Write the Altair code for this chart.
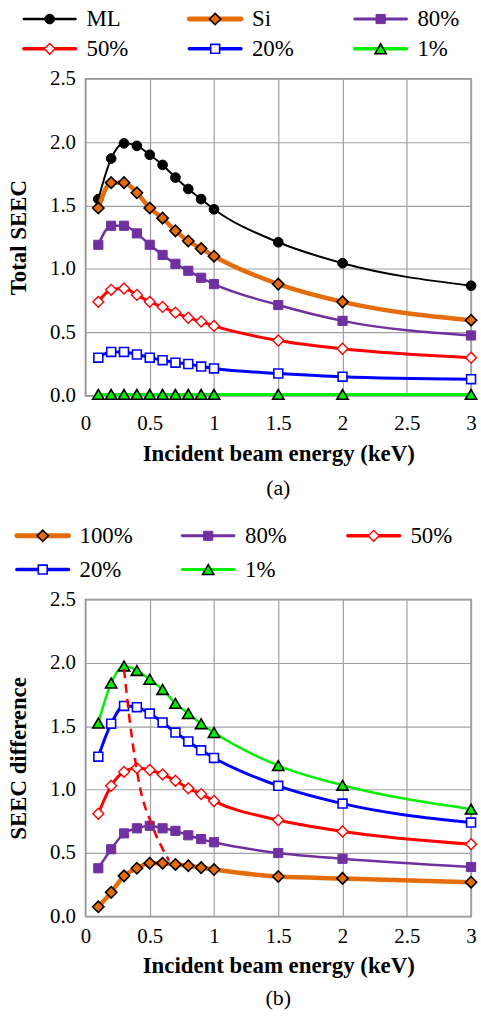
import altair as alt
import pandas as pd

# ---------------- data ----------------
energy = [0.1, 0.2, 0.3, 0.4, 0.5, 0.6, 0.7, 0.8, 0.9, 1.0, 1.5, 2.0, 3.0]

# panel (a): total SEEC
names_a = ["ML", "Si", "80%", "50%", "20%", "1%"]
seec_ml = [1.55, 1.87, 1.99, 1.97, 1.90, 1.82, 1.72, 1.63, 1.55, 1.47, 1.21, 1.045, 0.867]
seec_si = [1.48, 1.68, 1.68, 1.60, 1.48, 1.40, 1.30, 1.22, 1.16, 1.10, 0.88, 0.74, 0.595]
seec_80 = [1.19, 1.34, 1.34, 1.28, 1.19, 1.11, 1.04, 0.985, 0.93, 0.88, 0.715, 0.59, 0.475]
seec_50 = [0.74, 0.835, 0.845, 0.795, 0.74, 0.70, 0.655, 0.615, 0.585, 0.55, 0.435, 0.37, 0.30]
seec_20 = [0.30, 0.345, 0.345, 0.325, 0.30, 0.28, 0.26, 0.25, 0.23, 0.215, 0.175, 0.15, 0.13]
seec_1 = [0.01, 0.01, 0.01, 0.01, 0.01, 0.01, 0.01, 0.01, 0.01, 0.01, 0.01, 0.01, 0.01]

# panel (b): SEEC difference
names_b = ["100%", "80%", "50%", "20%", "1%"]
diff_100 = [0.076, 0.19, 0.32, 0.38, 0.42, 0.42, 0.41, 0.40, 0.385, 0.37, 0.315, 0.30, 0.27]
diff_80 = [0.38, 0.53, 0.655, 0.695, 0.715, 0.695, 0.675, 0.64, 0.61, 0.585, 0.50, 0.455, 0.39]
diff_50 = [0.81, 1.03, 1.14, 1.17, 1.155, 1.12, 1.07, 1.01, 0.965, 0.91, 0.76, 0.67, 0.57]
diff_20 = [1.26, 1.52, 1.66, 1.65, 1.60, 1.53, 1.45, 1.38, 1.31, 1.25, 1.03, 0.89, 0.74]
diff_1 = [1.525, 1.84, 1.975, 1.94, 1.87, 1.79, 1.68, 1.60, 1.52, 1.45, 1.19, 1.035, 0.846]

# dashed guide through the peaks (panel b)
peak_x = [0.30, 0.34, 0.43, 0.51, 0.65]
peak_y = [1.95, 1.58, 0.99, 0.74, 0.44]

x_ticks = [0, 0.5, 1, 1.5, 2, 2.5, 3]
y_ticks = [0, 0.5, 1.0, 1.5, 2.0, 2.5]

# ---------------- styles ----------------
ORANGE = "#E46C0A"
PURPLE = "#7030A0"
RED = "#FF0000"
BLUE = "#0000FF"
GREEN = "#00F000"

styles_a = {
    "ML": dict(color="#000000", lw=2, shape="circle", fill="#000000", stroke="#000000", size=95, sw=1),
    "Si": dict(color=ORANGE, lw=4.5, shape="diamond", fill=ORANGE, stroke="#000000", size=130, sw=1.6),
    "80%": dict(color=PURPLE, lw=2.5, shape="square", fill=PURPLE, stroke=PURPLE, size=85, sw=1),
    "50%": dict(color=RED, lw=3, shape="diamond", fill="#FFFFFF", stroke=RED, size=120, sw=1.4),
    "20%": dict(color=BLUE, lw=3, shape="square", fill="#FFFFFF", stroke=BLUE, size=80, sw=1.6),
    "1%": dict(color=GREEN, lw=3, shape="triangle-up", fill=GREEN, stroke="#000000", size=130, sw=1.6),
}
styles_b = {
    "100%": styles_a["Si"],
    "80%": styles_a["80%"],
    "50%": styles_a["50%"],
    "20%": styles_a["20%"],
    "1%": dict(color=GREEN, lw=2.5, shape="triangle-up", fill=GREEN, stroke="#000000", size=130, sw=1.6),
}

FONT = "Liberation Serif"
PW, PH = 388, 319


def long_df(names, series):
    rows = []
    for n, ys in zip(names, series):
        for x, y in zip(energy, ys):
            rows.append({"series": n, "x": x, "y": y})
    return pd.DataFrame(rows)


def panel(df, names, styles, ytitle, caption, label_pad, title_pad, cap_offset, extra=None):
    xs = alt.Scale(domain=[0, 3], nice=False)
    ys = alt.Scale(domain=[0, 2.5], nice=False)
    xa = alt.Axis(values=x_ticks, format="~g", title="Incident beam energy (keV)", labelFlush=False,
                  labelPadding=label_pad, titlePadding=title_pad)
    ya = alt.Axis(values=y_ticks, format=".1f", title=ytitle, labelPadding=10, titlePadding=19)
    layers = []
    for n in names:
        st = styles[n]
        sub = df[df.series == n]
        base = alt.Chart(sub).encode(
            x=alt.X("x:Q", scale=xs, axis=xa),
            y=alt.Y("y:Q", scale=ys, axis=ya),
        )
        layers.append(base.mark_line(color=st["color"], strokeWidth=st["lw"], interpolate="monotone"))
        layers.append(base.mark_point(shape=st["shape"], filled=True, fill=st["fill"], stroke=st["stroke"],
                                      strokeWidth=st["sw"], size=st["size"], opacity=1))
    if extra is not None:
        layers.append(extra)
    return alt.layer(*layers).properties(
        width=PW, height=PH,
        title=alt.TitleParams(caption, orient="bottom", font=FONT, fontSize=22, fontWeight="normal",
                              color="black", offset=cap_offset),
    )


def legend(names, styles, xrange, yrange, h):
    ldf = pd.DataFrame({
        "series": names,
        "col": [i % 3 for i in range(len(names))],
        "row": [i // 3 for i in range(len(names))],
    })
    xs = alt.Scale(domain=[0, 2], range=xrange)
    ys = alt.Scale(domain=[0, 1], range=yrange)
    layers = []
    for n in names:
        st = styles[n]
        base = alt.Chart(ldf[ldf.series == n]).encode(
            x=alt.X("col:Q", scale=xs, axis=None),
            y=alt.Y("row:Q", scale=ys, axis=None),
        )
        layers.append(base.mark_rule(color=st["color"], strokeWidth=st["lw"] + 0.5, strokeCap="round",
                                     xOffset=-26, x2Offset=26).encode(x2="col:Q"))
        layers.append(base.mark_point(shape=st["shape"], filled=True, fill=st["fill"], stroke=st["stroke"],
                                      strokeWidth=st["sw"], size=st["size"], opacity=1))
        layers.append(base.mark_text(align="left", baseline="middle", dx=37, font=FONT, fontSize=23,
                                     color="black").encode(text="series:N"))
    return alt.layer(*layers).properties(width=PW, height=h, view=alt.ViewBackground(stroke="transparent"))


df_a = long_df(names_a, [seec_ml, seec_si, seec_80, seec_50, seec_20, seec_1])
df_b = long_df(names_b, [diff_100, diff_80, diff_50, diff_20, diff_1])
df_peak = pd.DataFrame({"x": peak_x, "y": peak_y})

dashed = alt.Chart(df_peak).mark_line(color=RED, strokeWidth=2.5, strokeDash=[9, 6], interpolate="monotone").encode(
    x=alt.X("x:Q", scale=alt.Scale(domain=[0, 3], nice=False)),
    y=alt.Y("y:Q", scale=alt.Scale(domain=[0, 2.5], nice=False)),
)

leg_a = legend(names_a, styles_a, [-36, 297], [15, 45], 60)
plot_a = panel(df_a, names_a, styles_a, "Total SEEC", "(a)", 17, 9, 13)
leg_b = legend(names_b, styles_b, [-43, 290], [126, 160], 175)
plot_b = panel(df_b, names_b, styles_b, "SEEC difference", "(b)", 9, 8, 11, extra=dashed)

chart = alt.vconcat(leg_a, plot_a, leg_b, plot_b, spacing=15, bounds="flush").properties(
    padding={"left": 7, "top": 0, "right": 0, "bottom": 0},
    background="white",
).configure_view(
    stroke="#8c8c8c", strokeWidth=1.5
).configure_axis(
    labelFont=FONT, labelFontSize=21, labelColor="black",
    titleFont=FONT, titleFontSize=23, titleFontWeight="bold", titleColor="black",
    ticks=False, domain=False, gridColor="#a0a0a0", gridWidth=1.2, gridOpacity=1,
)

chart.save("out.html", embed_options={"renderer": "svg", "actions": False})
